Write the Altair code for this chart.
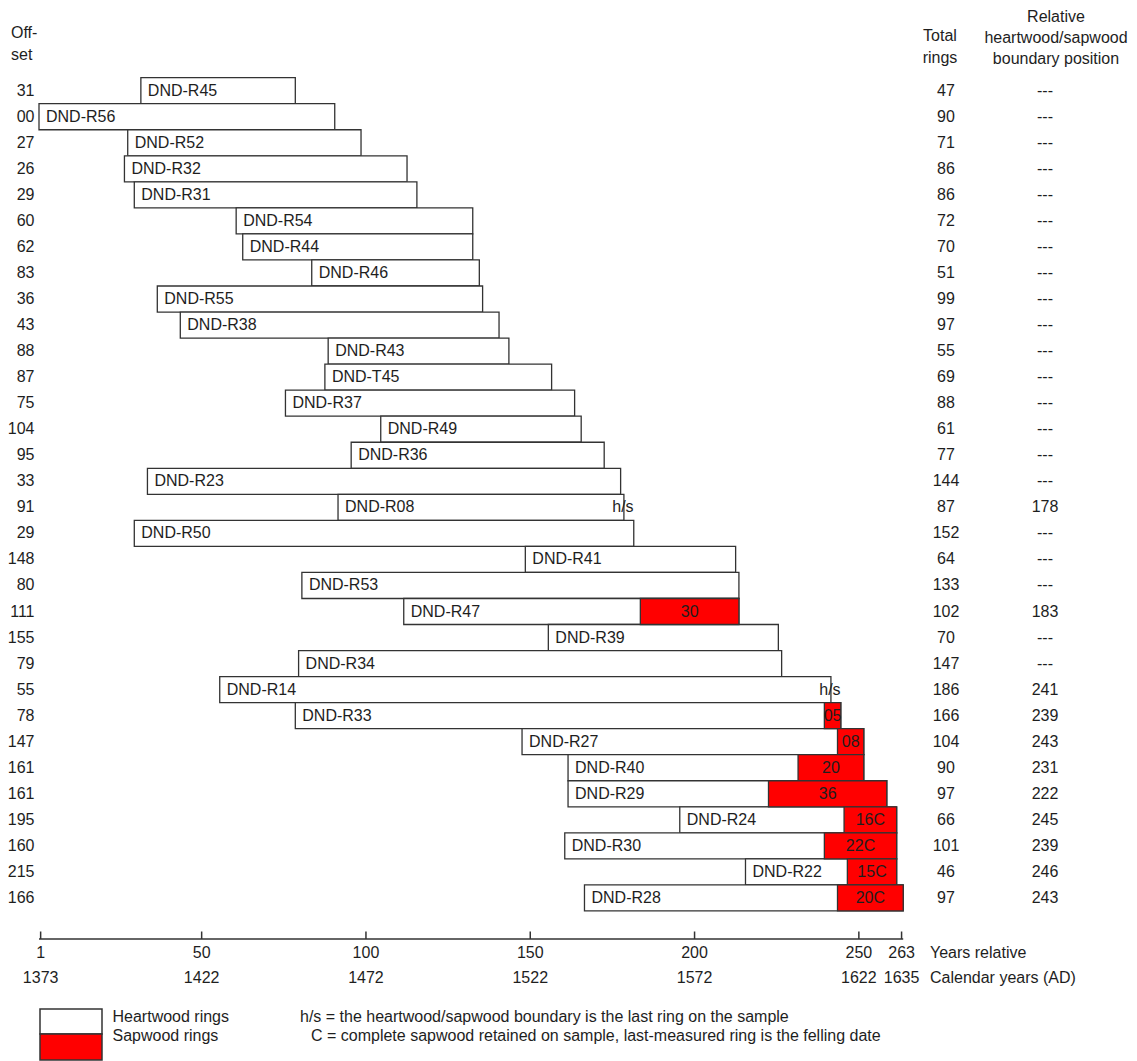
import altair as alt
import pandas as pd

# ---------------- data ----------------
names = ["DND-R45", "DND-R56", "DND-R52", "DND-R32", "DND-R31", "DND-R54", "DND-R44", "DND-R46",
         "DND-R55", "DND-R38", "DND-R43", "DND-T45", "DND-R37", "DND-R49", "DND-R36", "DND-R23",
         "DND-R08", "DND-R50", "DND-R41", "DND-R53", "DND-R47", "DND-R39", "DND-R34", "DND-R14",
         "DND-R33", "DND-R27", "DND-R40", "DND-R29", "DND-R24", "DND-R30", "DND-R22", "DND-R28"]
offsets = [31, 0, 27, 26, 29, 60, 62, 83, 36, 43, 88, 87, 75, 104, 95, 33,
           91, 29, 148, 80, 111, 155, 79, 55, 78, 147, 161, 161, 195, 160, 215, 166]
offset_labels = ["31", "00", "27", "26", "29", "60", "62", "83", "36", "43", "88", "87", "75", "104", "95", "33",
                 "91", "29", "148", "80", "111", "155", "79", "55", "78", "147", "161", "161", "195", "160", "215", "166"]
totals = [47, 90, 71, 86, 86, 72, 70, 51, 99, 97, 55, 69, 88, 61, 77, 144,
          87, 152, 64, 133, 102, 70, 147, 186, 166, 104, 90, 97, 66, 101, 46, 97]
sapwood = [0, 0, 0, 0, 0, 0, 0, 0, 0, 0, 0, 0, 0, 0, 0, 0,
           0, 0, 0, 0, 30, 0, 0, 0, 5, 8, 20, 36, 16, 22, 15, 20]
sap_labels = ["", "", "", "", "", "", "", "", "", "", "", "", "", "", "", "",
              "", "", "", "", "30", "", "", "", "05", "08", "20", "36", "16C", "22C", "15C", "20C"]
hs_marks = ["", "", "", "", "", "", "", "", "", "", "", "", "", "", "", "",
            "h/s", "", "", "", "", "", "", "h/s", "", "", "", "", "", "", "", ""]
boundary = ["---", "---", "---", "---", "---", "---", "---", "---", "---", "---", "---", "---", "---", "---", "---", "---",
            "178", "---", "---", "---", "183", "---", "---", "241", "239", "243", "231", "222", "245", "239", "246", "243"]

tick_values = [1, 50, 100, 150, 200, 250, 263]
calendar_labels = ["1373", "1422", "1472", "1522", "1572", "1622", "1635"]

df = pd.DataFrame({
    "row": list(range(len(names))),
    "name": names,
    "offset": offsets,
    "offset_label": offset_labels,
    "total": totals,
    "sap": sapwood,
    "sap_label": sap_labels,
    "hs": hs_marks,
    "boundary": boundary,
})
df["end"] = df["offset"] + df["total"]
df["hend"] = df["end"] - df["sap"]
df["top"] = df["row"] - 0.5
df["bot"] = df["row"] + 0.5
df["sapmid"] = (df["hend"] + df["end"]) / 2
df["total_label"] = df["total"].astype(str)

sap_df = df[df["sap"] > 0]
hs_df = df[df["hs"] != ""]

ticks = pd.DataFrame({"v": tick_values, "rel": [str(v) for v in tick_values], "cal": calendar_labels})
ticks["pos"] = ticks["v"] - 0.5

# ---------------- layout ----------------
W, H = 1121, 1053
X0, SLOPE = 31.0, 3.286          # local px of ring-0 edge, px per ring
ROW0, ROWH = 82.7, 26.04          # local px of first row centre, px per row
xs = alt.Scale(domain=[-X0 / SLOPE, (W - X0) / SLOPE], nice=False, zero=False)
ys = alt.Scale(domain=[-ROW0 / ROWH, (H - ROW0) / ROWH], nice=False, zero=False, reverse=True)

FONT = "Liberation Sans"
FS = 16
INK = "#1e1e1e"
STROKE = "#333333"

base = alt.Chart(df)

bars = base.mark_rect(fill="white", stroke=STROKE, strokeWidth=1.3).encode(
    x=alt.X("offset:Q", scale=xs, axis=None), x2="end:Q",
    y=alt.Y("top:Q", scale=ys, axis=None), y2="bot:Q")

sap_bars = alt.Chart(sap_df).mark_rect(fill="#ff0000", stroke=STROKE, strokeWidth=1.3).encode(
    x=alt.X("hend:Q", scale=xs, axis=None), x2="end:Q",
    y=alt.Y("top:Q", scale=ys, axis=None), y2="bot:Q")

name_text = base.mark_text(align="left", baseline="middle", dx=7, font=FONT, fontSize=FS, color=INK).encode(
    x=alt.X("offset:Q", scale=xs, axis=None), y=alt.Y("row:Q", scale=ys, axis=None), text="name:N")

sap_text = alt.Chart(sap_df).mark_text(align="center", baseline="middle", font=FONT, fontSize=FS, color=INK).encode(
    x=alt.X("sapmid:Q", scale=xs, axis=None), y=alt.Y("row:Q", scale=ys, axis=None), text="sap_label:N")

hs_text = alt.Chart(hs_df).mark_text(align="center", baseline="middle", dx=-1, font=FONT, fontSize=FS, color=INK).encode(
    x=alt.X("end:Q", scale=xs, axis=None), y=alt.Y("row:Q", scale=ys, axis=None), text="hs:N")

offset_col = base.mark_text(align="right", baseline="middle", font=FONT, fontSize=FS, color=INK).encode(
    x=alt.value(26.5), y=alt.Y("row:Q", scale=ys, axis=None), text="offset_label:N")

total_col = base.mark_text(align="center", baseline="middle", font=FONT, fontSize=FS, color=INK).encode(
    x=alt.value(938), y=alt.Y("row:Q", scale=ys, axis=None), text="total_label:N")

bound_col = base.mark_text(align="center", baseline="middle", font=FONT, fontSize=FS, color=INK).encode(
    x=alt.value(1037), y=alt.Y("row:Q", scale=ys, axis=None), text="boundary:N")


def label(txt, x, y, align="left"):
    return alt.Chart(pd.DataFrame({"t": [txt]})).mark_text(
        align=align, baseline="middle", font=FONT, fontSize=FS, color=INK).encode(
        x=alt.value(x), y=alt.value(y), text="t:N")


headers = [
    label("Off-", 3, 25), label("set", 3, 47),
    label("Total", 932, 28, "center"), label("rings", 932, 50, "center"),
    label("Relative", 1048, 9, "center"), label("heartwood/sapwood", 1048, 30, "center"),
    label("boundary position", 1048, 51, "center"),
    label("Years relative", 922, 944.5), label("Calendar years (AD)", 922, 970),
    label("Heartwood rings", 104.5, 1008.5), label("Sapwood rings", 104.5, 1028),
    label("h/s = the heartwood/sapwood boundary is the last ring on the sample", 292, 1008.5),
    label("C = complete sapwood retained on sample, last-measured ring is the felling date", 303, 1028),
]

axis_line = alt.Chart(pd.DataFrame({"a": [0], "b": [263]})).mark_rule(color=STROKE, strokeWidth=1.5).encode(
    x=alt.X("a:Q", scale=xs, axis=None), x2="b:Q", y=alt.value(931))

tick_marks = alt.Chart(ticks).mark_rule(color=STROKE, strokeWidth=1.5).encode(
    x=alt.X("pos:Q", scale=xs, axis=None), y=alt.value(923.5), y2=alt.value(931))

rel_labels = alt.Chart(ticks).mark_text(align="center", baseline="middle", font=FONT, fontSize=FS, color=INK).encode(
    x=alt.X("pos:Q", scale=xs, axis=None), y=alt.value(944.5), text="rel:N")

cal_labels = alt.Chart(ticks).mark_text(align="center", baseline="middle", font=FONT, fontSize=FS, color=INK).encode(
    x=alt.X("pos:Q", scale=xs, axis=None), y=alt.value(970), text="cal:N")

leg_white = alt.Chart(pd.DataFrame({"k": ["h"]})).mark_rect(fill="white", stroke=STROKE, strokeWidth=1.5).encode(
    x=alt.value(32), x2=alt.value(94), y=alt.value(1001), y2=alt.value(1026))
leg_red = alt.Chart(pd.DataFrame({"k": ["s"]})).mark_rect(fill="#ff0000", stroke=STROKE, strokeWidth=1.5).encode(
    x=alt.value(32), x2=alt.value(94), y=alt.value(1026), y2=alt.value(1052))

chart = alt.layer(
    bars, sap_bars, name_text, sap_text, hs_text, offset_col, total_col, bound_col,
    axis_line, tick_marks, rel_labels, cal_labels, leg_white, leg_red, *headers
).properties(
    width=W, height=H, padding=0, autosize=alt.AutoSizeParams(type="none"), background="white"
).configure_view(strokeWidth=0, stroke=None)

chart.save("out.html", embed_options={"renderer": "svg", "actions": False})
